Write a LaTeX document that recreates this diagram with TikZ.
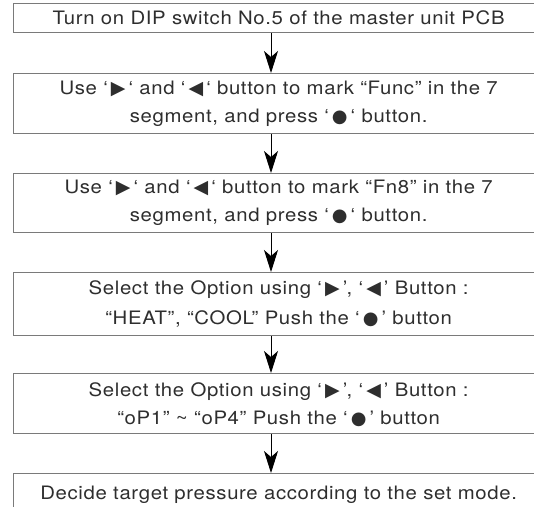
\documentclass[tikz,border=0pt]{standalone}
\usepackage{fontspec}
\setmainfont{TeX Gyre Heros}[FakeStretch=1.1, LetterSpace=3.5]
\newfontfamily\symfont{DejaVu Sans}
\usetikzlibrary{arrows.meta}
\definecolor{boxline}{HTML}{7A7A7A}
\definecolor{txt}{HTML}{2E2E2E}
\newcommand{\symR}{\,\smash{\symfont\fontsize{19}{19}\selectfont ▶}\,}
\newcommand{\symL}{\,\smash{\symfont\fontsize{19}{19}\selectfont ◀}\,}
\newcommand{\symB}{\,\smash{\symfont\fontsize{18}{18}\selectfont ●}\,}
\tikzset{
  stepbox/.style={draw=boxline, line width=1.3pt, anchor=north west, minimum width=530pt,
    inner sep=0pt, align=center, text=txt, font=\fontsize{18.5}{28}\selectfont},
  flowarrow/.style={draw=black, line width=0.9pt, -{Stealth[length=22pt,width=14pt,inset=6pt]}}
}
\begin{document}
\begin{tikzpicture}[x=1pt,y=-1pt]
\useasboundingbox (0,0) rectangle (534,506);
\clip (0,0) rectangle (534,506);
\node[stepbox, minimum height=29pt] (b1) at (13,3) {Turn on DIP switch No.5 of the master unit PCB};
\node[stepbox, minimum height=60pt] (b2) at (13,73) {Use ‘\symR‘ and ‘\symL‘ button to mark “Func” in the 7\\segment, and press ‘\symB‘ button.};
\node[stepbox, minimum height=59pt] (b3) at (13,173) {Use ‘\symR‘ and ‘\symL‘ button to mark “Fn8” in the 7\\segment, and press ‘\symB‘ button.};
\node[stepbox, minimum height=63pt, font=\fontsize{18.5}{30}\selectfont] (b4) at (13,272) {Select the Option using ‘\symR’, ‘\symL’ Button :\\“HEAT”, “COOL” Push the ‘\symB’ button};
\node[stepbox, minimum height=60pt, font=\fontsize{18.5}{28}\selectfont] (b5) at (13,373) {Select the Option using ‘\symR’, ‘\symL’ Button :\\“oP1” \textasciitilde{} “oP4” Push the ‘\symB’ button};
\node[stepbox, minimum height=42pt] (b6) at (13,473) {Decide target pressure according to the set mode.};
\coordinate (ax) at (271,0);
\draw[flowarrow] (b1.south -| ax) -- (b2.north -| ax);
\draw[flowarrow] (b2.south -| ax) -- (b3.north -| ax);
\draw[flowarrow] (b3.south -| ax) -- (b4.north -| ax);
\draw[flowarrow] (b4.south -| ax) -- (b5.north -| ax);
\draw[flowarrow] (b5.south -| ax) -- (b6.north -| ax);
\end{tikzpicture}
\end{document}
